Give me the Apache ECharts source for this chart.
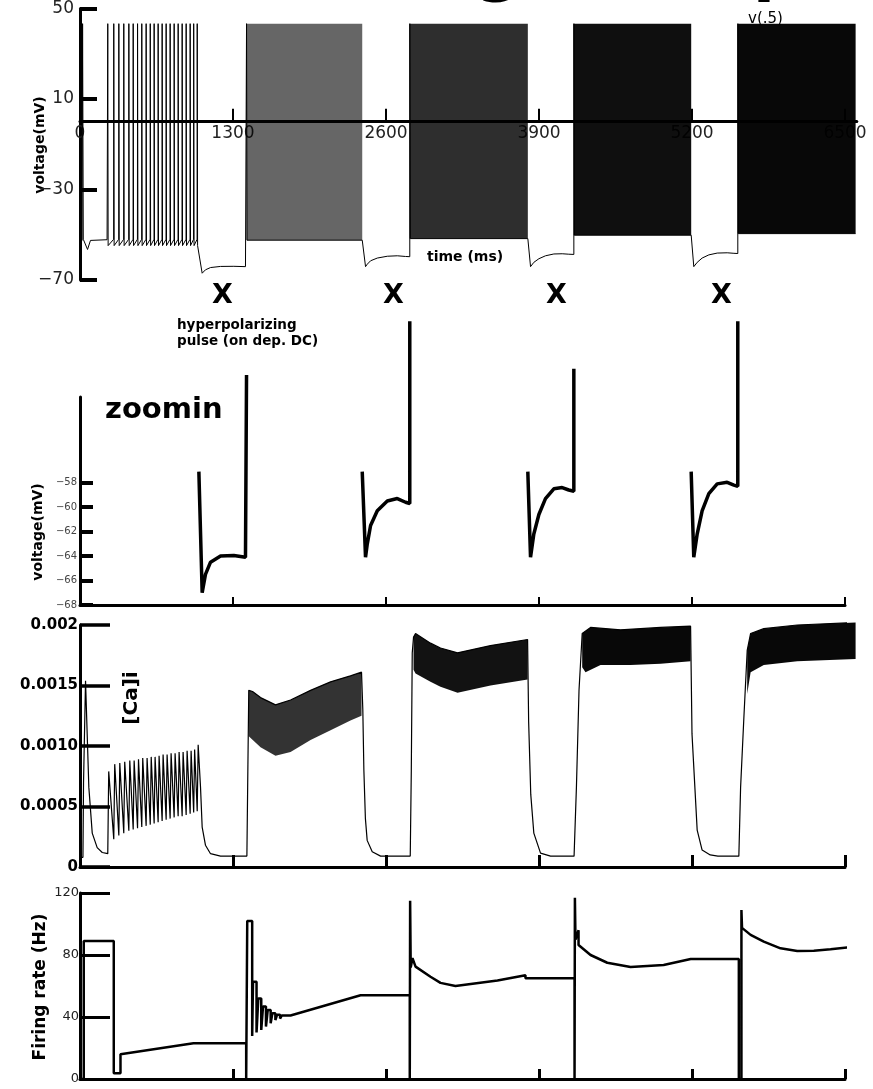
<!DOCTYPE html>
<html>
<head>
<meta charset="utf-8">
<script src="https://cdn.jsdelivr.net/npm/echarts@6/dist/echarts.min.js"></script>
<style>
  html, body { margin: 0; padding: 0; background: #fff; }
  #chart { width: 873px; height: 1089px; }
</style>
</head>
<body>
<div id="chart"></div>
<script>
// time axis (ms)
const timeTicks = [1300, 2600, 3900, 5200, 6500];
const timeLabels = [0, 1300, 2600, 3900, 5200, 6500];

// ---- voltage trace, v(.5) ----
const voltTicks = [-70, -30, 10, 50];
const vInit = [[0, -52.5], [18, -52.5], [22, 43.3], [28, -52], [64, -56.5], [89, -52.5], [230, -52.2]];
const spikeTimes1 = [236, 287, 330, 372, 415, 452, 489, 525, 562, 597, 630, 664, 698, 732, 766, 800, 834, 868, 902, 936, 966, 996];
const spikePeak = 43.3;
const spikeBase1 = -52;
const spikeAhp1 = -54.8;

// hyperpolarizing pulses (same data in top panel and zoom)
const pulseOnset = [1010, 2398, 3805, 5193];
const pulse1 = [[1038, -67], [1066, -65.5], [1109, -64.5], [1194, -64], [1307, -63.95], [1406, -64.1], [1415, -64.1]];
const pulse2 = [[2426, -64.1], [2441, -63], [2469, -61.5], [2526, -60.3], [2611, -59.5], [2696, -59.3], [2766, -59.6], [2802, -59.7]];
const pulse3 = [[3828, -64.1], [3856, -62.2], [3899, -60.6], [3955, -59.3], [4026, -58.5], [4097, -58.4], [4153, -58.6], [4196, -58.7]];
const pulse4 = [[5215, -64.1], [5244, -62.2], [5286, -60.3], [5343, -58.9], [5414, -58.1], [5499, -57.97], [5556, -58.2], [5589, -58.3]];
const zoomEntry = -57.1;
const zoomExit = [-49.2, -44.8, -48.7, -44.8];
const zoomTicks = [-68, -66, -64, -62, -60, -58];

// dense spiking after each pulse: end time and trough
const burstEnd = [2398, 3805, 5193, 6590];
const burstTrough = [-52.4, -51.7, -50.2, -49.5];

// ---- [Ca]i ----
const caTicks = [0, 0.0005, 0.001, 0.0015, 0.002];
const caInit = [[0, 0.00008], [25, 0.00008], [30, 0.0007], [47, 0.00154], [75, 0.00066], [104, 0.00028], [146, 0.00016], [189, 0.00012], [236, 0.00011]];
const caPeak1 = [0.00079, 0.00085, 0.00086, 0.00087, 0.00088, 0.00088, 0.00089, 0.0009, 0.0009, 0.00091, 0.00091, 0.00092, 0.00093, 0.00093, 0.00094, 0.00094, 0.00095, 0.00095, 0.00096, 0.00096, 0.00097, 0.00101];
const caTrough1 = [0.00023, 0.00026, 0.00028, 0.0003, 0.00031, 0.00032, 0.00033, 0.00034, 0.00035, 0.00036, 0.00037, 0.00038, 0.00039, 0.0004, 0.00041, 0.00042, 0.00042, 0.00043, 0.00044, 0.00045, 0.00046];
const caAfter1 = [[1024, 0.00066], [1038, 0.00033], [1066, 0.00018], [1109, 0.00011], [1194, 0.00009], [1418, 0.00009], [1425, 0.0007]];
const caUpper2 = [[1434, 0.00146], [1466, 0.00145], [1534, 0.0014], [1661, 0.00134], [1789, 0.00138], [1959, 0.00146], [2129, 0.00153], [2298, 0.00158], [2392, 0.00161]];
const caLower2 = [[1434, 0.00108], [1534, 0.00099], [1661, 0.00092], [1789, 0.00095], [1959, 0.00105], [2129, 0.00113], [2298, 0.00121], [2392, 0.00125]];
const caAfter2 = [[2403, 0.0013], [2412, 0.0008], [2425, 0.0004], [2440, 0.00022], [2483, 0.000126], [2554, 0.00009], [2806, 0.00009], [2815, 0.0008], [2823, 0.00177]];
const caUpper3 = [[2834, 0.0019], [2851, 0.00193], [2978, 0.00185], [3063, 0.00181], [3208, 0.00177], [3488, 0.00183], [3803, 0.00188]];
const caLower3 = [[2834, 0.00163], [2851, 0.0016], [2978, 0.00153], [3063, 0.00149], [3208, 0.00144], [3488, 0.0015], [3803, 0.00155]];
const caAfter3 = [[3812, 0.0012], [3830, 0.0006], [3856, 0.00028], [3913, 0.000115], [3998, 0.00009], [4198, 0.00009], [4218, 0.00066], [4240, 0.00146]];
const caUpper4 = [[4267, 0.00193], [4338, 0.00198], [4593, 0.00196], [4933, 0.00198], [5188, 0.00199]];
const caLower4 = [[4267, 0.00165], [4295, 0.00161], [4423, 0.00167], [4678, 0.00167], [4933, 0.00168], [5188, 0.0017]];
const caAfter4 = [[5200, 0.0011], [5244, 0.000305], [5286, 0.00014], [5355, 0.0001], [5420, 0.00009], [5598, 0.00009], [5613, 0.00066], [5641, 0.00124]];
const caUpper5 = [[5669, 0.00179], [5698, 0.00193], [5810, 0.00197], [6094, 0.002], [6590, 0.00202]];
const caLower5 = [[5669, 0.00143], [5698, 0.00161], [5810, 0.00167], [6094, 0.0017], [6590, 0.00172]];

// ---- firing rate (Hz) ----
const rateTicks = [0, 40, 80, 120];
const rateTrace = [
  [0, 0], [32, 0], [32, 89], [287, 89], [287, 3.7], [344, 3.7], [344, 16], [964, 23], [1412, 23], [1412, 0],
  [1421, 0], [1421, 102], [1463, 102], [1463, 27.7], [1470, 27.7], [1470, 62.8], [1500, 62.8], [1500, 30],
  [1515, 30], [1515, 52], [1540, 52], [1540, 31.6], [1555, 31.6], [1555, 46.7], [1580, 46.7], [1580, 33.8],
  [1595, 33.8], [1595, 44.5], [1620, 44.5], [1620, 36], [1635, 36], [1635, 42.5], [1660, 42.5], [1660, 38],
  [1675, 38], [1675, 41.5], [1700, 41.5], [1700, 39], [1715, 39], [1715, 41], [1745, 41], [1745, 40],
  [1789, 41], [2384, 54], [2802, 54], [2802, 0], [2805, 0], [2805, 115], [2810, 115], [2810, 72],
  [2825, 78], [2851, 72.5], [2978, 66], [3063, 62], [3190, 60], [3547, 63.5], [3785, 67], [3785, 65],
  [4202, 65], [4202, 0], [4205, 0], [4205, 117], [4210, 117], [4210, 90], [4236, 96], [4236, 86.5],
  [4338, 80], [4480, 75], [4678, 72.3], [4959, 73.5], [5189, 77.4], [5598, 77.4], [5598, 0], [5620, 0],
  [5620, 109], [5625, 109], [5625, 97.5], [5698, 93], [5810, 88.6], [5952, 84.3], [6094, 82.6],
  [6235, 82.8], [6377, 83.7], [6590, 85.4]
];

const pulses = [pulse1, pulse2, pulse3, pulse4];
const caBands = [[caUpper2, caLower2], [caUpper3, caLower3], [caUpper4, caLower4], [caUpper5, caLower5]];

// styles
const FONT = '"DejaVu Sans", sans-serif';
const burstShade = [0.6, 0.82, 0.94, 0.97];
const caBandShade = [0.8, 0.93, 0.97, 0.97];
const minus = (v) => String(v).replace('-', '\u2212');

function buildVoltage() {
  const pts = vInit.slice();
  spikeTimes1.forEach((t) => {
    pts.push([t - 1, spikeBase1], [t, spikePeak], [t + 3, spikeAhp1]);
  });
  pulses.forEach((p, k) => {
    const before = k === 0 ? spikeAhp1 : burstTrough[k - 1];
    pts.push([pulseOnset[k], before]);
    pts.push(...p);
    const tStart = p[p.length - 1][0];
    pts.push([tStart, spikePeak], [tStart + 4, burstTrough[k]], [burstEnd[k], burstTrough[k]]);
  });
  return pts;
}

// each dense burst as [start, end, trough]
const burstBoxes = pulses.map((p, k) => [p[p.length - 1][0], burstEnd[k], burstTrough[k]]);

function buildCa() {
  const pts = caInit.slice();
  spikeTimes1.forEach((t, i) => {
    if (i > 0) pts.push([t, caTrough1[i - 1]]);
    pts.push([t + 8, caPeak1[i]]);
  });
  return pts.concat(caAfter1, caUpper2, caAfter2, caUpper3, caAfter3, caUpper4, caAfter4, caUpper5);
}

function zoomSeries() {
  return pulses.map((p, k) => {
    const tEnd = p[p.length - 1][0];
    return {
      type: 'line', xAxisIndex: 1, yAxisIndex: 1, showSymbol: false, clip: false, silent: true,
      lineStyle: { color: '#000', width: 3.5 },
      data: [[pulseOnset[k], zoomEntry]].concat(p, [[tEnd, zoomExit[k]]])
    };
  });
}

const caLabel = { 0: '0', 0.0005: '0.0005', 0.001: '0.0010', 0.0015: '0.0015', 0.002: '0.002' };

// top panel: time axis sits on the 0 mV line
const TOP_GRID = { top: 7, height: 273 };
const zeroOffset = -(TOP_GRID.height * (0 - (-70)) / (50 - (-70)));

function timeAxis(grid, max, tickLen, tickW) {
  return {
    gridIndex: grid, type: 'value', min: 0, max: max, z: 0,
    offset: grid === 0 ? zeroOffset : 0,
    axisLine: { show: true, onZero: false, lineStyle: { color: '#000', width: 3 } },
    axisTick: { show: true, inside: true, length: tickLen, lineStyle: { color: '#000', width: tickW }, customValues: timeTicks },
    axisLabel: { show: false },
    splitLine: { show: false }
  };
}

function valueAxis(grid, min, max, ticks, tickLen, tickW, label) {
  return {
    gridIndex: grid, type: 'value', min: min, max: max,
    axisLine: { show: true, onZero: false, lineStyle: { color: '#000', width: 3 } },
    axisTick: { show: true, inside: true, length: tickLen, lineStyle: { color: '#000', width: tickW }, customValues: ticks },
    axisLabel: Object.assign({ customValues: ticks, fontFamily: FONT, color: '#000' }, label),
    splitLine: { show: false }
  };
}

function rotText(text, x, y, size) {
  return {
    type: 'text', x: x, y: y, rotation: Math.PI / 2,
    style: { text: text, font: 'bold ' + size + 'px ' + FONT, fill: '#000',
      align: 'center', verticalAlign: 'middle', textAlign: 'center', textVerticalAlign: 'middle' }
  };
}

function plainText(text, x, y, font, extra) {
  return Object.assign({
    type: 'text', x: x, y: y,
    style: { text: text, font: font + ' ' + FONT, fill: '#000',
      align: 'left', verticalAlign: 'middle', textAlign: 'left', textVerticalAlign: 'middle', lineHeight: 16 }
  }, extra || {});
}

function bigLetter(text, x) {
  return {
    type: 'text', x: x, y: 4,
    style: { text: text, font: 'bold 64px ' + FONT, fill: '#000',
      align: 'center', verticalAlign: 'bottom', textAlign: 'center', textVerticalAlign: 'bottom' }
  };
}

const chart = echarts.init(document.getElementById('chart'), null, { renderer: 'canvas' });

chart.setOption({
  animation: false,
  backgroundColor: '#fff',
  grid: [
    { left: 80, top: TOP_GRID.top, width: 776.8, height: TOP_GRID.height },
    { left: 80, top: 397, width: 765, height: 208 },
    { left: 80, top: 625, width: 765, height: 242 },
    { left: 80, top: 893, width: 765, height: 186 }
  ],
  xAxis: [
    timeAxis(0, 6600, 12, 2),
    timeAxis(1, 6500, 8, 2),
    timeAxis(2, 6500, 12, 3),
    timeAxis(3, 6500, 10, 3)
  ],
  yAxis: [
    valueAxis(0, -70, 50, voltTicks, 17, 4, { fontSize: 17, color: '#222', margin: 6, formatter: minus }),
    valueAxis(1, -68, -51, zoomTicks, 13, 4, { fontSize: 10, color: '#444', margin: 3, formatter: minus }),
    valueAxis(2, 0, 0.002, caTicks, 30, 3.5, { fontSize: 15, fontWeight: 'bold', margin: 2, formatter: (v) => caLabel[v] }),
    valueAxis(3, 0, 120, rateTicks, 30, 3, { fontSize: 13, color: '#222', margin: 1 })
  ],
  graphic: [
    plainText('v(.5)', 748, 19, '15px', { z: 0 }),
    bigLetter('g', 499),
    bigLetter('p', 776),
    rotText('voltage(mV)', 40, 145, 14),
    plainText('time (ms)', 427, 257, 'bold 14px'),
    plainText('X', 212, 296, 'bold 27px'),
    plainText('X', 383, 296, 'bold 27px'),
    plainText('X', 546, 296, 'bold 27px'),
    plainText('X', 711, 296, 'bold 27px'),
    plainText('hyperpolarizing\npulse (on dep. DC)', 177, 333, 'bold 13.5px'),
    plainText('zoomin', 105, 410, 'bold 29px'),
    rotText('voltage(mV)', 38, 532, 14),
    rotText('[Ca]i', 132, 698, 20),
    rotText('Firing rate (Hz)', 41, 987, 17)
  ],
  series: [
    {
      // time tick labels of the top panel, drawn under the spike bursts
      type: 'custom', xAxisIndex: 0, yAxisIndex: 0, silent: true, clip: false, z: 1,
      data: timeLabels.map((v) => [v, 0]),
      renderItem: (params, api) => {
        const p = api.coord([api.value(0), api.value(1)]);
        return {
          type: 'text', x: p[0], y: p[1] + 12, z2: 0,
          style: { text: String(api.value(0)), font: '17px ' + FONT, fill: '#222', align: 'center', verticalAlign: 'middle' }
        };
      }
    },
    {
      type: 'custom', xAxisIndex: 0, yAxisIndex: 0, silent: true, z: 5,
      data: burstBoxes,
      renderItem: (params, api) => {
        const lo = api.coord([api.value(0), api.value(2)]);
        const hi = api.coord([api.value(1), spikePeak]);
        return {
          type: 'rect',
          shape: { x: lo[0], y: hi[1], width: hi[0] - lo[0], height: lo[1] - hi[1] },
          style: { fill: 'rgba(0,0,0,' + burstShade[params.dataIndex] + ')' }
        };
      }
    },
    {
      type: 'line', xAxisIndex: 0, yAxisIndex: 0, showSymbol: false, silent: true, z: 6,
      lineStyle: { color: '#000', width: 1 },
      data: buildVoltage()
    },
    ...zoomSeries(),
    {
      type: 'line', xAxisIndex: 2, yAxisIndex: 2, showSymbol: false, clip: false, silent: true,
      lineStyle: { color: '#000', width: 1.2 },
      data: buildCa()
    },
    {
      type: 'custom', xAxisIndex: 2, yAxisIndex: 2, clip: false, silent: true,
      data: caBands.map((b) => [b[0][0][0], b[0][0][1]]),
      renderItem: (params, api) => {
        const [up, lo] = caBands[params.dataIndex];
        const pts = up.concat(lo.slice().reverse()).map((p) => api.coord(p));
        return { type: 'polygon', shape: { points: pts }, style: { fill: 'rgba(0,0,0,' + caBandShade[params.dataIndex] + ')' } };
      }
    },
    {
      type: 'line', xAxisIndex: 3, yAxisIndex: 3, showSymbol: false, clip: false, silent: true,
      lineStyle: { color: '#000', width: 2.5 },
      data: rateTrace
    }
  ]
});
</script>
</body>
</html>
